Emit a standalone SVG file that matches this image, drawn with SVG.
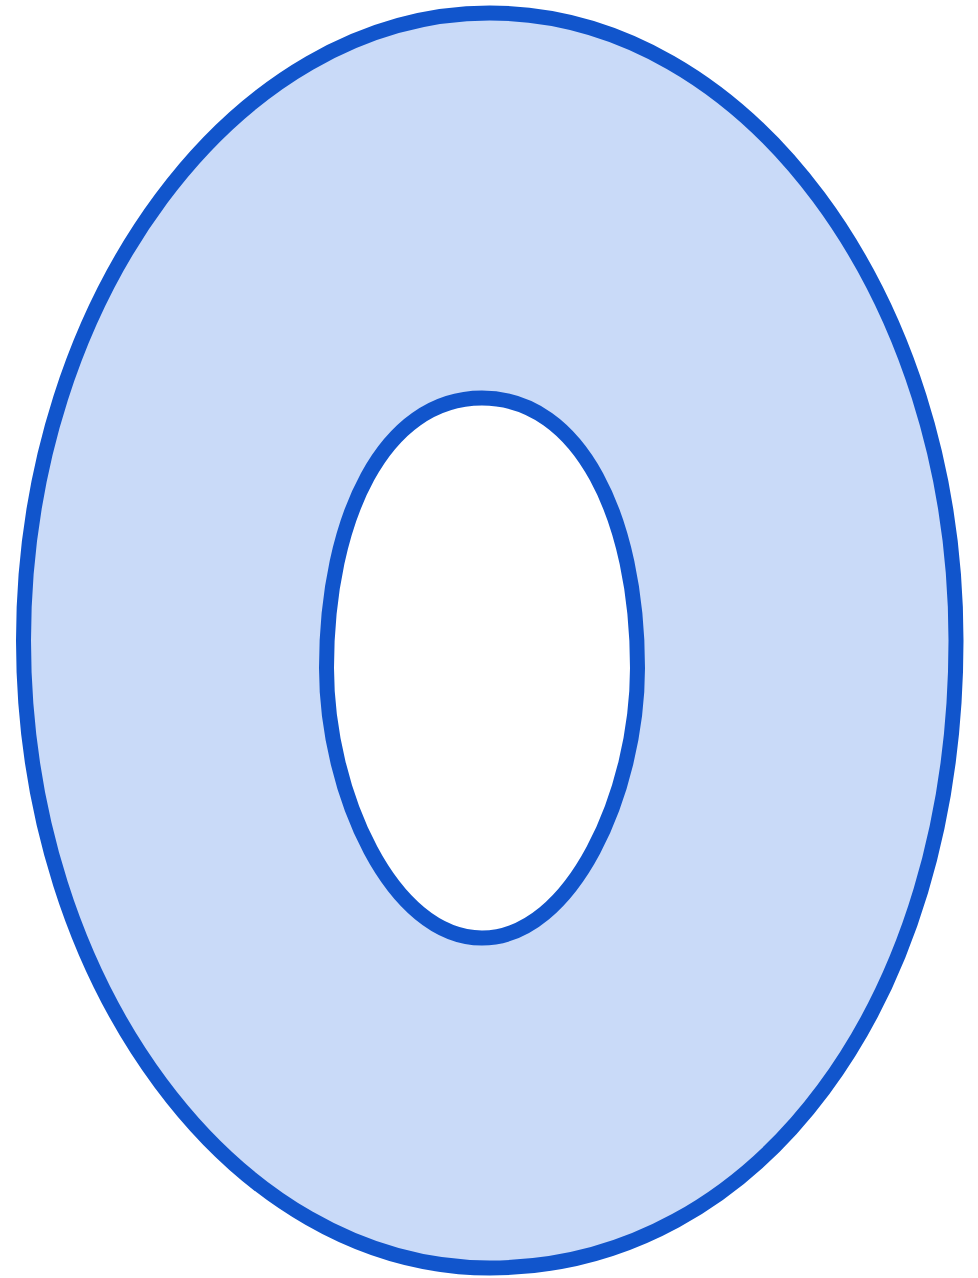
<svg xmlns="http://www.w3.org/2000/svg" width="978" height="1278" viewBox="0 0 978 1278">
  <style>
    .ring { fill: #c9daf8; stroke: #1155cc; stroke-width: 15; fill-rule: evenodd; stroke-linejoin: round; }
  </style>
  <rect width="978" height="1278" fill="#ffffff"/>
  <g id="zero">
    <path class="ring" d="M 489.75 13 C 235.6 13 23.5 298.5 23.5 640.5 C 23.5 984.4 234.2 1268 489.75 1268 C 757.8 1268 956 1001.3 956 640.5 C 956 294.7 745.3 13 489.75 13 Z M 482 398 C 384 398 326.5 518 326.5 668 C 326.5 793 392 938 482 938 C 572 938 637.5 793 637.5 668 C 637.5 518 580 398 482 398 Z"/>
  </g>
</svg>
